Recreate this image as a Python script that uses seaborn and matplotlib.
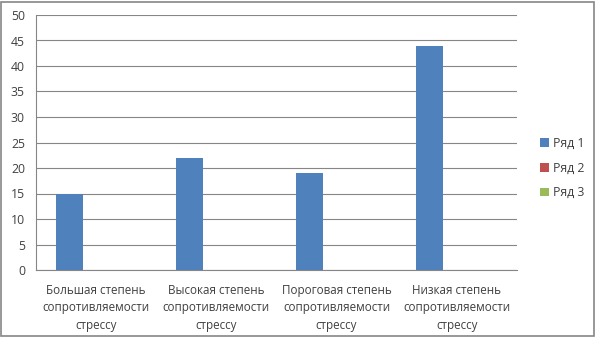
import matplotlib
matplotlib.use("Agg")
import matplotlib.pyplot as plt
import seaborn as sns
import pandas as pd
import numpy as np
from matplotlib.patches import Rectangle, Patch

categories = ["Большая степень\nсопротивляемости\nстрессу",
              "Высокая степень\nсопротивляемости\nстрессу",
              "Пороговая степень\nсопротивляемости\nстрессу",
              "Низкая степень\nсопротивляемости\nстрессу"]
series_names = ["Ряд 1", "Ряд 2", "Ряд 3"]
row1 = [15, 22, 19, 44]
row2 = [0, 0, 0, 0]
row3 = [0, 0, 0, 0]
yticks = [0, 5, 10, 15, 20, 25, 30, 35, 40, 45, 50]
colors = ["#4F81BD", "#C0504D", "#9BBB59"]

df = pd.DataFrame({
    "cat": categories * 3,
    "series": [s for s in series_names for _ in categories],
    "val": row1 + row2 + row3,
})

sns.set_style("white")
plt.rcParams["font.family"] = ["Open Sans", "DejaVu Sans"]

fig = plt.figure(figsize=(5.96, 3.37), dpi=100)
ax = fig.add_axes([36/596, 1-270/337, (517-36)/596, (270-15)/337])

sns.barplot(data=df, x="cat", y="val", hue="series", hue_order=series_names,
            order=categories, palette=colors, width=0.675, gap=0,
            linewidth=0, edgecolor="none", ax=ax, legend=False, errorbar=None,
            saturation=1)

ax.set_ylim(0, 50)
ax.set_xlim(-0.5, len(categories)-0.5)
ax.set_yticks(yticks)
ax.set_yticklabels([str(t) for t in yticks], fontsize=8.8, color="#404040")
ax.set_xticks(range(len(categories)))
ax.set_xticklabels(categories, fontsize=8.4, color="#404040", linespacing=1.45)
ax.set_xticks(np.arange(-0.5, len(categories), 1), minor=True)
ax.tick_params(axis="x", which="major", length=0, pad=10)
ax.tick_params(axis="x", which="minor", length=5, color="#868686", width=0.8, direction="out")
ax.tick_params(axis="y", length=5, color="#868686", width=0.8, direction="out", pad=3)
ax.set_xlabel("")
ax.set_ylabel("")
ax.yaxis.grid(True, color="#868686", linewidth=0.8)
ax.set_axisbelow(True)
for side in ["top", "right"]:
    ax.spines[side].set_visible(False)
ax.spines["left"].set_color("#868686")
ax.spines["bottom"].set_color("#868686")
ax.spines["left"].set_linewidth(0.8)
ax.spines["bottom"].set_linewidth(0.8)

handles = [Patch(facecolor=c, edgecolor="none", label=s) for c, s in zip(colors, series_names)]
leg = fig.legend(handles=handles, loc="center left", bbox_to_anchor=(529/596, 1-168/337),
                 frameon=False, fontsize=8.8, handlelength=0.7, handleheight=0.7,
                 handletextpad=0.4, labelspacing=0.95)
for t in leg.get_texts():
    t.set_color("#404040")

fig.patches.append(Rectangle((0.002, 0.003), 0.994, 0.992, transform=fig.transFigure,
                             fill=False, edgecolor="#868686", linewidth=1.2))

fig.savefig("out.png", dpi=100)
